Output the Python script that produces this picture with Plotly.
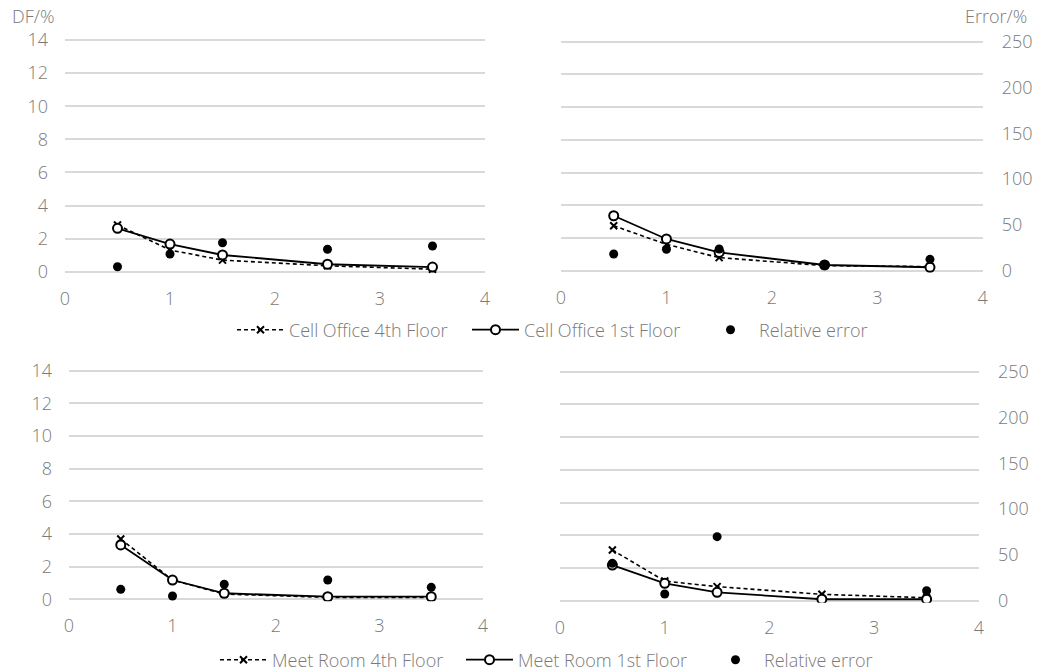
import plotly.graph_objects as go

# ---------------- data ----------------
x_pos = [0.5, 1, 1.5, 2.5, 3.5]

cell_4th = [2.82, 1.31, 0.70, 0.36, 0.15]
cell_1st = [2.62, 1.67, 1.01, 0.45, 0.28]
cell_err = [5.4, 19.1, 31.3, 24.2, 27.7]

cell2_4th = [2.75, 1.61, 0.80, 0.31, 0.25]
cell2_1st = [3.36, 1.94, 1.12, 0.35, 0.21]
cell2_err = [18.2, 23.4, 23.7, 6.2, 12.4]

meet_4th = [3.69, 1.18, 0.32, 0.12, 0.12]
meet_1st = [3.33, 1.18, 0.37, 0.16, 0.16]
meet_err = [10.9, 3.6, 16.4, 21.1, 13.1]

meet2_4th = [3.10, 1.20, 0.86, 0.39, 0.18]
meet2_1st = [2.18, 1.06, 0.51, 0.09, 0.09]
meet2_err = [40.8, 7.3, 69.9, None, 10.9]

x_ticks = [0, 1, 2, 3, 4]
df_ticks = [0, 2, 4, 6, 8, 10, 12, 14]
err_ticks = [0, 50, 100, 150, 200, 250]

# ---------------- style ----------------
W, H = 1039, 671
FONT = dict(family="Open Sans", size=18, color="#7a7a7a", weight=300)
GRID = "#d9d9d9"
PAD = 0.12  # range padding (data units) so the edge gridlines are drawn
DF_RANGE = [-PAD, 14 + PAD]
ER_RANGE = [-PAD * 250 / 14, 250 + PAD * 250 / 14]

def px_x(a, b):
    return [a / W, b / W]

def px_y(top, bottom):
    pad_px = PAD * (bottom - top) / 14
    return [1 - (bottom + pad_px) / H, 1 - (top - pad_px) / H]

panels = [
    dict(xd=px_x(65, 485), yd=px_y(40, 271.7), left=True, right=False),
    dict(xd=px_x(561, 982.7), yd=px_y(41.7, 270.7), left=False, right=True),
    dict(xd=px_x(69, 483), yd=px_y(370.7, 599.3), left=True, right=False),
    dict(xd=px_x(560, 979), yd=px_y(371.7, 600.7), left=False, right=True),
]

data_sets = [
    ("Cell Office 4th Floor", "Cell Office 1st Floor", cell_4th, cell_1st, cell_err, "legend", True),
    ("Cell Office 4th Floor", "Cell Office 1st Floor", cell2_4th, cell2_1st, cell2_err, "legend", False),
    ("Meet Room 4th Floor", "Meet Room 1st Floor", meet_4th, meet_1st, meet_err, "legend2", True),
    ("Meet Room 4th Floor", "Meet Room 1st Floor", meet2_4th, meet2_1st, meet2_err, "legend2", False),
]

fig = go.Figure()
layout = {}

for i, (p, ds) in enumerate(zip(panels, data_sets)):
    xi = i + 1
    y_df = 2 * i + 1
    y_er = 2 * i + 2
    xname = "x" if xi == 1 else f"x{xi}"
    ydf = "y" if y_df == 1 else f"y{y_df}"
    yer = f"y{y_er}"
    n4, n1, v4, v1, ve, leg, show = ds

    fig.add_trace(go.Scatter(
        x=x_pos, y=v4, name=n4, mode="lines+markers",
        line=dict(color="black", width=1.6, dash="4px,3px"),
        marker=dict(symbol="x-thin", size=7, line=dict(color="black", width=2)),
        xaxis=xname, yaxis=ydf, legend=leg, showlegend=show))
    fig.add_trace(go.Scatter(
        x=x_pos, y=v1, name=n1, mode="lines+markers",
        line=dict(color="black", width=1.8),
        marker=dict(symbol="circle", size=9, color="white", line=dict(color="black", width=2)),
        xaxis=xname, yaxis=ydf, legend=leg, showlegend=show))
    fig.add_trace(go.Scatter(
        x=x_pos, y=ve, name="Relative error", mode="markers",
        marker=dict(symbol="circle", size=9, color="black"),
        xaxis=xname, yaxis=yer, legend=leg, showlegend=show))

    xkey = "xaxis" if xi == 1 else f"xaxis{xi}"
    ydfkey = "yaxis" if y_df == 1 else f"yaxis{y_df}"
    yerkey = f"yaxis{y_er}"

    layout[xkey] = dict(
        domain=p["xd"], anchor=ydf, range=[0, 4], tickvals=x_ticks,
        showgrid=False, zeroline=False, showline=False, ticks="",
        tickfont=FONT, ticklabelstandoff=12, fixedrange=True, automargin=False)
    layout[ydfkey] = dict(
        domain=p["yd"], anchor=xname, range=DF_RANGE, tickvals=df_ticks,
        showgrid=True, gridcolor=GRID, gridwidth=1.5,
        zeroline=True, zerolinecolor=GRID, zerolinewidth=1.5,
        showline=False, ticks="", showticklabels=p["left"],
        tickfont=FONT, ticklabelstandoff=16, fixedrange=True, automargin=False)
    layout[yerkey] = dict(
        overlaying=ydf, anchor=xname, side="right", range=ER_RANGE,
        tickvals=err_ticks, showgrid=False, zeroline=False, showline=False,
        ticks="", showticklabels=p["right"], tickfont=FONT,
        ticklabelstandoff=18, fixedrange=True, automargin=False)

fig.update_layout(**layout)

fig.update_layout(
    width=W, height=H,
    margin=dict(l=0, r=0, t=0, b=0, autoexpand=False),
    paper_bgcolor="white", plot_bgcolor="white",
    font=FONT,
    legend=dict(orientation="h", x=232 / W, xanchor="left", y=1 - 330 / H, yanchor="middle",
                font=FONT, bgcolor="rgba(0,0,0,0)", itemwidth=47,
                entrywidth=173, entrywidthmode="pixels"),
    legend2=dict(orientation="h", x=215 / W, xanchor="left", y=1 - 660 / H, yanchor="middle",
                 font=FONT, bgcolor="rgba(0,0,0,0)", itemwidth=47,
                 entrywidth=184, entrywidthmode="pixels"),
    annotations=[
        dict(text="DF/%", x=10 / W, y=1 - 16 / H, xref="paper", yref="paper",
             xanchor="left", yanchor="middle", showarrow=False, font=FONT),
        dict(text="Error/%", x=1029 / W, y=1 - 16 / H, xref="paper", yref="paper",
             xanchor="right", yanchor="middle", showarrow=False, font=FONT),
    ],
)

fig.write_html("out.html")
